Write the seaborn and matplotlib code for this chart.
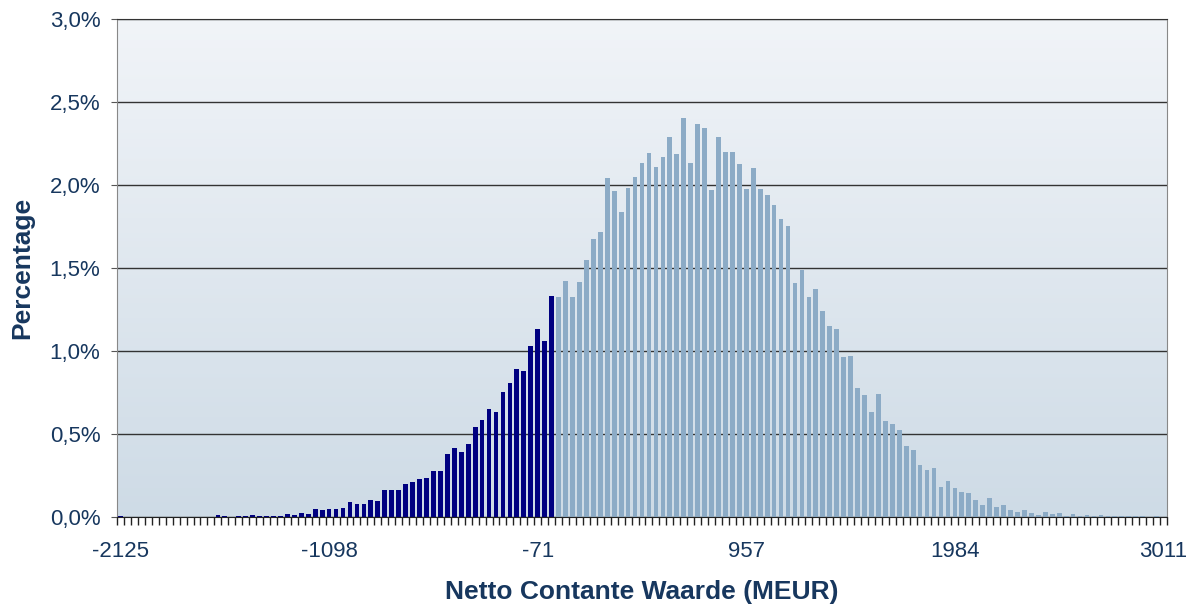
import numpy as np
import pandas as pd
import matplotlib
matplotlib.use("Agg")
import matplotlib.pyplot as plt
from matplotlib.colors import LinearSegmentedColormap
import seaborn as sns

# histogram of the NPV, 151 classes of 34.24 MEUR starting at -2125
start = -2125
step = 34.24
pct = [
    0.008, 0, 0, 0, 0, 0, 0, 0, 0, 0,
    0, 0, 0, 0, 0.012, 0.006, 0, 0.006, 0.006, 0.014,
    0.008, 0.008, 0.008, 0.008, 0.018, 0.014, 0.024, 0.020, 0.048, 0.042,
    0.050, 0.046, 0.056, 0.092, 0.076, 0.076, 0.100, 0.098, 0.163, 0.160,
    0.163, 0.200, 0.210, 0.227, 0.233, 0.277, 0.277, 0.379, 0.413, 0.389,
    0.441, 0.542, 0.583, 0.649, 0.631, 0.750, 0.806, 0.891, 0.881, 1.028,
    1.135, 1.060, 1.332, 1.326, 1.422, 1.326, 1.417, 1.550, 1.672, 1.716,
    2.044, 1.964, 1.836, 1.985, 2.050, 2.135, 2.191, 2.106, 2.166, 2.287,
    2.184, 2.404, 2.131, 2.367, 2.341, 1.969, 2.291, 2.197, 2.201, 2.124,
    1.977, 2.105, 1.978, 1.938, 1.880, 1.796, 1.756, 1.411, 1.485, 1.325,
    1.375, 1.242, 1.150, 1.133, 0.962, 0.970, 0.778, 0.735, 0.631, 0.741,
    0.579, 0.558, 0.522, 0.429, 0.401, 0.315, 0.283, 0.296, 0.179, 0.215,
    0.174, 0.148, 0.142, 0.102, 0.070, 0.114, 0.062, 0.071, 0.040, 0.032,
    0.045, 0.022, 0.014, 0.032, 0.018, 0.024, 0.006, 0.016, 0.006, 0.012,
    0.006, 0.010, 0.006, 0.004, 0.004, 0.004, 0.004, 0.004, 0, 0.004,
    0,
]
classes = np.round(start + step * np.arange(len(pct))).astype(int)
y_ticks = [0, 0.5, 1.0, 1.5, 2.0, 2.5, 3.0]
y_labels = ["0,0%", "0,5%", "1,0%", "1,5%", "2,0%", "2,5%", "3,0%"]

df = pd.DataFrame({
    "klasse": classes.astype(str),
    "pct": pct,
    "kant": np.where(classes <= 0, "neg", "pos"),
})

txt = "#17375E"
fig, ax = plt.subplots(figsize=(11.92, 6.06), dpi=100)
fig.subplots_adjust(left=0.0982, right=0.979, top=0.9686, bottom=0.1469)

sns.barplot(data=df, x="klasse", y="pct", hue="kant", order=df["klasse"],
            palette={"neg": "#000080", "pos": "#8CABC6"}, dodge=False,
            width=0.68, saturation=1, errorbar=None, legend=False, ax=ax)

# light-to-dark blue gradient behind the bars
grad = np.linspace(0, 1, 256).reshape(-1, 1)
bg = LinearSegmentedColormap.from_list("bg", ["#F1F4F8", "#CEDBE6"])
ax.imshow(grad, cmap=bg, aspect="auto", extent=[0, 1, 0, 1],
          transform=ax.transAxes, zorder=-1)

n = len(pct)
ax.set_xlim(-0.5, n - 0.5)
ax.set_ylim(0, 3.0)

ax.set_yticks(y_ticks)
ax.set_yticklabels(y_labels)
ax.yaxis.grid(True, color="#333333", lw=1)
ax.set_axisbelow(True)

major = list(range(0, n, 30))
ax.set_xticks(major)
ax.set_xticklabels(df["klasse"].iloc[major])
ax.set_xticks(np.arange(n + 1) - 0.5, minor=True)
ax.tick_params(axis="x", which="major", length=0, pad=17, labelsize=16, labelcolor=txt)
ax.tick_params(axis="x", which="minor", length=6, width=1, color="#222222", direction="out")
ax.tick_params(axis="y", length=4, color="#555555", pad=8, labelsize=16, labelcolor=txt)

for side in ["left", "right", "top"]:
    ax.spines[side].set_color("#888888")
ax.spines["top"].set_color("#333333")
ax.spines["bottom"].set_color("#222222")

ax.set_xlabel("Netto Contante Waarde (MEUR)", fontsize=19, fontweight="bold",
              color=txt, labelpad=13)
ax.set_ylabel("Percentage", fontsize=19, fontweight="bold", color=txt, labelpad=11)

plt.rcParams["font.family"] = ["Liberation Sans", "DejaVu Sans"]
for t in ax.get_xticklabels() + ax.get_yticklabels() + [ax.xaxis.label, ax.yaxis.label]:
    t.set_family(["Liberation Sans", "DejaVu Sans"])

fig.savefig("out.png", dpi=100)
